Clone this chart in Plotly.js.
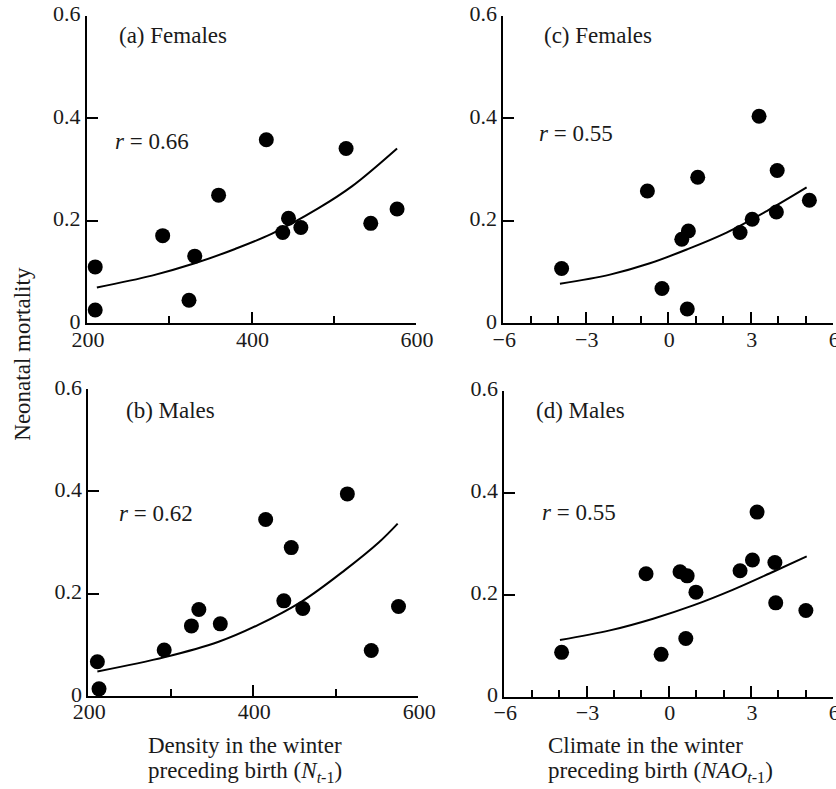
<!DOCTYPE html>
<html>
<head>
<meta charset="utf-8">
<script src="https://cdn.plot.ly/plotly-3.0.1.min.js"></script>
<style>
html,body{margin:0;padding:0;background:#fff;}
#chart{width:836px;height:789px;}
</style>
</head>
<body>
<div id="chart"></div>
<script>
// ---- Data ----
// (a) Females vs density
const aDensity   = [210, 210, 292, 331, 324, 360, 418, 438, 445, 460, 515, 545, 577];
const aMortality = [0.110, 0.026, 0.171, 0.131, 0.045, 0.250, 0.358, 0.177, 0.205, 0.187, 0.341, 0.195, 0.223];
const aCurveX = [212, 279, 331, 380, 425, 481, 522, 577];
const aCurveY = [0.070, 0.093, 0.117, 0.145, 0.175, 0.224, 0.267, 0.341];

// (b) Males vs density
const bDensity   = [211, 213, 292, 325, 334, 360, 415, 437, 446, 460, 514, 543, 576];
const bMortality = [0.067, 0.014, 0.090, 0.137, 0.169, 0.141, 0.345, 0.186, 0.290, 0.171, 0.395, 0.089, 0.175];
const bCurveX = [211, 293, 358, 406, 459, 511, 552, 575];
const bCurveY = [0.048, 0.076, 0.106, 0.139, 0.185, 0.246, 0.300, 0.337];

// (c) Females vs NAO
const cNAO       = [-3.88, -0.76, -0.23, 0.49, 0.73, 0.69, 1.07, 2.61, 3.05, 3.30, 3.96, 3.93, 5.13];
const cMortality = [0.107, 0.258, 0.068, 0.164, 0.180, 0.028, 0.285, 0.177, 0.203, 0.404, 0.298, 0.217, 0.240];
const cCurveX = [-3.94, -2.12, -0.67, 0.67, 2.12, 3.58, 5.03];
const cCurveY = [0.077, 0.095, 0.117, 0.144, 0.177, 0.219, 0.265];

// (d) Males vs NAO
const dNAO       = [-3.91, -0.83, -0.28, 0.41, 0.67, 0.62, 0.99, 2.60, 3.05, 3.22, 3.87, 3.90, 5.00];
const dMortality = [0.087, 0.241, 0.083, 0.245, 0.237, 0.114, 0.205, 0.247, 0.268, 0.362, 0.263, 0.184, 0.169];
const dCurveX = [-3.97, -2.15, -0.57, 0.89, 2.35, 3.81, 5.03];
const dCurveY = [0.111, 0.130, 0.153, 0.179, 0.210, 0.245, 0.275];

const yTicks = [0, 0.2, 0.4, 0.6];
const yTickText = ['0', '0.2', '0.4', '0.6'];
const densTicks = [200, 400, 600];
const naoTicks = [-6, -3, 0, 3, 6];

// ---- Styling ----
const FONT = 'Liberation Serif, Times New Roman, Times, serif';
const INK = '#1a1a1a';

function pts(x, y, xa, ya) {
  return {x: x, y: y, xaxis: xa, yaxis: ya, type: 'scatter', mode: 'markers',
    cliponaxis: false, showlegend: false,
    marker: {color: '#000', size: 15, line: {width: 0}}};
}
function curve(x, y, xa, ya) {
  return {x: x, y: y, xaxis: xa, yaxis: ya, type: 'scatter', mode: 'lines',
    cliponaxis: false, showlegend: false,
    line: {color: '#000', width: 2, shape: 'spline', smoothing: 1}};
}

const data = [
  curve(aCurveX, aCurveY, 'x', 'y'),  pts(aDensity, aMortality, 'x', 'y'),
  curve(bCurveX, bCurveY, 'x2', 'y2'), pts(bDensity, bMortality, 'x2', 'y2'),
  curve(cCurveX, cCurveY, 'x3', 'y3'), pts(cNAO, cMortality, 'x3', 'y3'),
  curve(dCurveX, dCurveY, 'x4', 'y4'), pts(dNAO, dMortality, 'x4', 'y4')
];

function xax(domain, anchor, range, ticks, minorStep) {
  return {domain: domain, anchor: anchor, range: range, showgrid: false, zeroline: false,
    showline: true, linecolor: '#000', linewidth: 2,
    ticks: 'inside', ticklen: 11, tickwidth: 2, tickcolor: '#000',
    tickmode: 'array', tickvals: ticks, ticklabeloverflow: 'allow',
    ticklabelstandoff: -5, ticklabelshift: 1,
    minor: {dtick: minorStep, tick0: range[0], ticks: 'inside', ticklen: 7, tickwidth: 2, tickcolor: '#000', showgrid: false},
    tickfont: {family: FONT, size: 22, color: INK}, fixedrange: true};
}
function yax(domain, anchor) {
  return {domain: domain, anchor: anchor, range: [0, 0.6], showgrid: false, zeroline: false,
    showline: true, linecolor: '#000', linewidth: 2,
    ticks: 'inside', ticklen: 11, tickwidth: 2, tickcolor: '#000',
    tickmode: 'array', tickvals: yTicks, ticktext: yTickText,
    ticklabelshift: -2,
    tickfont: {family: FONT, size: 22, color: INK}, fixedrange: true};
}

const W = 836, H = 789;
const px = v => v / W;
const py = v => 1 - v / H;

function ann(text, x, y, xref, yref, extra) {
  return Object.assign({text: text, x: x, y: y, xref: xref, yref: yref, showarrow: false,
    xanchor: 'left', yanchor: 'middle', font: {family: FONT, size: 23, color: INK}}, extra || {});
}

const layout = {
  width: W, height: H,
  font: {family: FONT, size: 22, color: INK},
  margin: {l: 0, r: 0, t: 0, b: 0, pad: 0},
  paper_bgcolor: '#fff', plot_bgcolor: '#fff',
  showlegend: false,
  xaxis:  xax([px(87), px(416)], 'y', [200, 600], densTicks, 100),
  yaxis:  yax([py(323.3), py(15.7)], 'x'),
  xaxis2: xax([px(88.3), px(418.3)], 'y2', [200, 600], densTicks, 100),
  yaxis2: yax([py(696), py(389)], 'x2'),
  xaxis3: xax([px(503.3), px(833.3)], 'y3', [-6, 6], naoTicks, 1),
  yaxis3: yax([py(323.3), py(15.7)], 'x3'),
  xaxis4: xax([px(504.3), px(833.3)], 'y4', [-6, 6], naoTicks, 1),
  yaxis4: yax([py(696.7), py(390.7)], 'x4'),
  annotations: [
    ann('(a) Females', 236.5, 0.562, 'x', 'y'),
    ann('<i>r</i> = 0.66', 232, 0.354, 'x', 'y'),
    ann('(b) Males', 243.3, 0.558, 'x2', 'y2'),
    ann('<i>r</i> = 0.62', 235, 0.357, 'x2', 'y2'),
    ann('(c) Females', -4.6, 0.562, 'x3', 'y3'),
    ann('<i>r</i> = 0.55', -4.79, 0.371, 'x3', 'y3'),
    ann('(d) Males', -4.91, 0.561, 'x4', 'y4'),
    ann('<i>r</i> = 0.55', -4.68, 0.361, 'x4', 'y4'),
    ann('Neonatal mortality', px(21.7), py(354), 'paper', 'paper', {xanchor: 'center', textangle: -90}),
    ann('Density in the winter', px(146), py(745), 'paper', 'paper'),
    ann('preceding birth (<i>N</i><sub><i>t</i>-1</sub>)', px(146), py(771.7), 'paper', 'paper'),
    ann('Climate in the winter', px(546), py(745), 'paper', 'paper'),
    ann('preceding birth (<i>NAO</i><sub><i>t</i>-1</sub>)', px(546), py(771.7), 'paper', 'paper')
  ]
};

Plotly.newPlot('chart', data, layout, {staticPlot: true, displayModeBar: false});
</script>
</body>
</html>
